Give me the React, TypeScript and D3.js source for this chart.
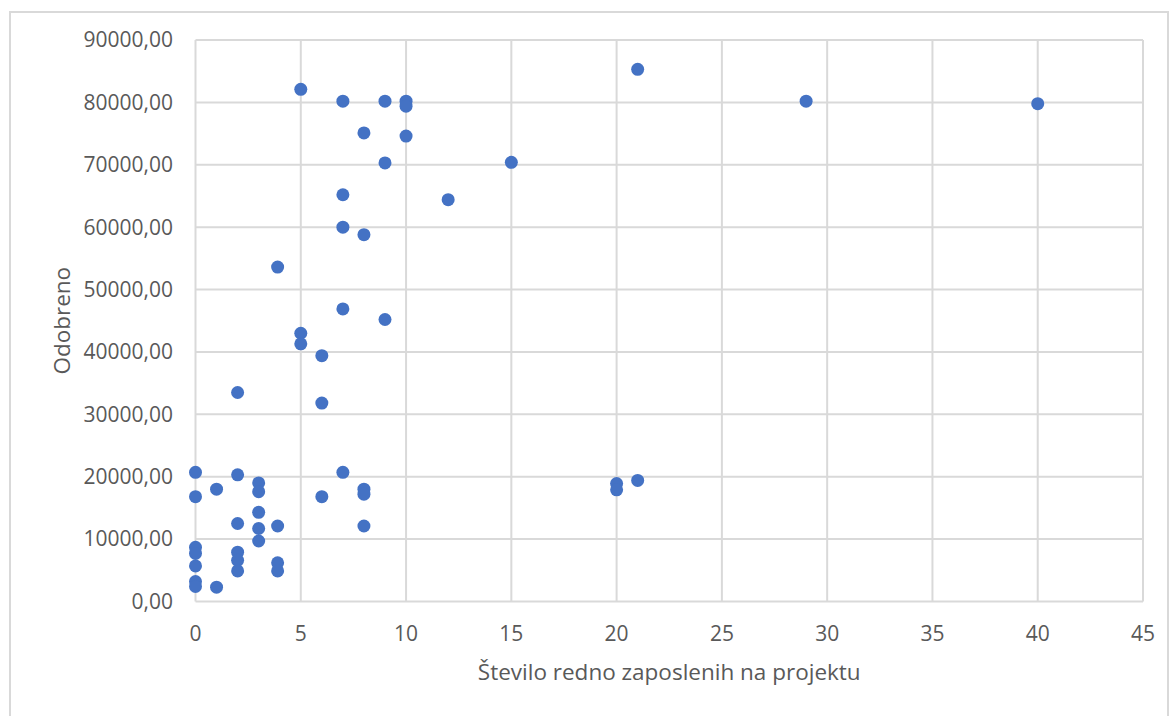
import React from "react";
import * as d3 from "d3";

const employees: number[] = [
  0, 2, 7, 1, 3, 3, 0, 6, 8, 8, 3, 2, 3, 3.9, 8, 3, 0, 0, 2, 2, 2, 0, 3.9, 3.9, 0, 0, 1,
  20, 20, 21,
  3.9, 7, 9, 5, 5, 6, 2, 6,
  5, 7, 9, 10, 10, 8, 10, 9, 15, 7, 12, 7, 8, 21, 29, 40,
];
const approved: number[] = [
  20700, 20300, 20700, 18000, 19000, 17600, 16800, 16800, 18000, 17200, 14300, 12500, 11700, 12100, 12100, 9700, 8700, 7700, 7900, 6600, 4900, 5700, 6200, 4900, 3200, 2400, 2300,
  18900, 17900, 19400,
  53600, 46900, 45200, 43000, 41300, 39400, 33500, 31800,
  82100, 80200, 80200, 80200, 79400, 75100, 74600, 70300, 70400, 65200, 64400, 60000, 58800, 85300, 80200, 79800,
];
const xTicks: number[] = [0, 5, 10, 15, 20, 25, 30, 35, 40, 45];
const yTicks: number[] = [0, 10000, 20000, 30000, 40000, 50000, 60000, 70000, 80000, 90000];
const xTitle = "Število redno zaposlenih na projektu";
const yTitle = "Odobreno";

const W = 1174;
const H = 716;
const FONT = "'Open Sans', sans-serif";
const LABEL = "#595959";
const GRID = "#d9d9d9";

export default function App() {
  const x = d3.scaleLinear().domain([0, 45]).range([195.5, 1143]);
  const y = d3.scaleLinear().domain([0, 90000]).range([601.5, 40]);
  const fmt = (v: number) => d3.format(".2f")(v).replace(".", ",");
  const points = employees.map((e, i) => ({ e, a: approved[i] }));

  return (
    <svg
      width={W}
      height={H}
      style={{ position: "absolute", left: 0, top: 0, background: "#fff" }}
      fontFamily={FONT}
    >
      <rect x={10} y={12} width={1158} height={720} fill="#fff" stroke={GRID} strokeWidth={2} />
      {yTicks.map((t) => (
        <line key={"gy" + t} x1={x(0)} x2={x(45)} y1={y(t)} y2={y(t)} stroke={GRID} strokeWidth={2} />
      ))}
      {xTicks.map((t) => (
        <line key={"gx" + t} x1={x(t)} x2={x(t)} y1={y(0)} y2={y(90000)} stroke={GRID} strokeWidth={2} />
      ))}
      {yTicks.map((t) => (
        <text key={"ly" + t} x={173} y={y(t)} dy="0.35em" textAnchor="end" fontSize={21} fill={LABEL}>
          {fmt(t)}
        </text>
      ))}
      {xTicks.map((t) => (
        <text key={"lx" + t} x={x(t)} y={641} textAnchor="middle" fontSize={21} fill={LABEL}>
          {t}
        </text>
      ))}
      <text x={(x(0) + x(45)) / 2} y={680} textAnchor="middle" fontSize={22.5} fill={LABEL}>
        {xTitle}
      </text>
      <text
        transform={`translate(70, ${(y(0) + y(90000)) / 2}) rotate(-90)`}
        textAnchor="middle"
        fontSize={22.5}
        fill={LABEL}
      >
        {yTitle}
      </text>
      {points.map((p, i) => (
        <circle key={i} cx={x(p.e)} cy={y(p.a)} r={6.5} fill="#4472C4" />
      ))}
    </svg>
  );
}
